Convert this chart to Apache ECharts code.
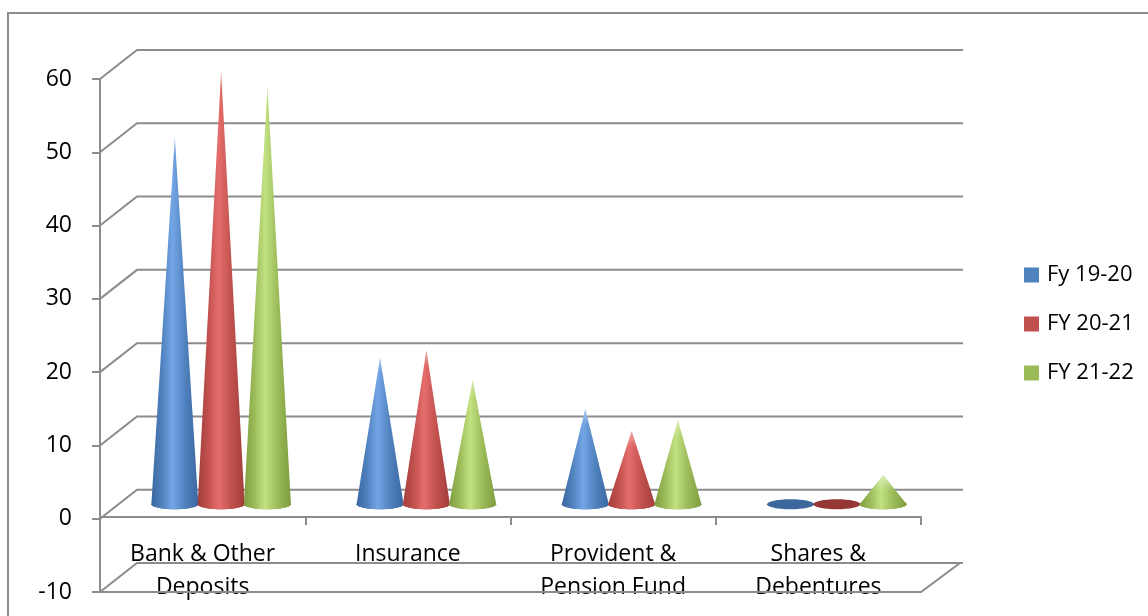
<!DOCTYPE html>
<html>
<head>
<meta charset="utf-8">
<script src="https://cdn.jsdelivr.net/npm/echarts@6/dist/echarts.min.js"></script>
<style>
  html, body { margin: 0; padding: 0; background: #ffffff; }
  #chart { width: 1148px; height: 616px; }
</style>
</head>
<body>
<div id="chart"></div>
<script>
// Categories and values (per cent of household savings)
const categories = ['Bank & Other\nDeposits', 'Insurance', 'Provident &\nPension Fund', 'Shares &\nDebentures'];
const seriesNames = ['Fy 19-20', 'FY 20-21', 'FY 21-22'];
const fy1920 = [50, 20, 13, 0];
const fy2021 = [59, 21, 10, 0];
const fy2122 = [57, 17, 11.5, 4];
const yTicks = [-10, 0, 10, 20, 30, 40, 50, 60];

const FONT = 'Open Sans';
const GRID_COLOR = '#8C8C8C';
const DEPTH_X = 37;   // back-wall offset, pixels
const DEPTH_Y = 29;
const SLOT_W = 46.3;  // spacing between cones inside a category
const CONE_R = 23.5;
const CONE_RY = 5;

const palettes = [
  { base: '#4F81BD', edge: '#3B67A0', light: '#74A5E6', disc: '#3C689D' },
  { base: '#C0504D', edge: '#A23E3B', light: '#E56E6B', disc: '#953735' },
  { base: '#9BBB59', edge: '#7E9C3E', light: '#C2E282', disc: '#7C9A3C' }
];

// Back wall, left wall diagonals and the floor at the axis minimum
function renderWalls(params, api) {
  const cs = params.coordSys;
  const v = api.value(1);
  const y = api.coord([0, v])[1];
  const x0 = cs.x, x1 = cs.x + cs.width;
  const st = { stroke: GRID_COLOR, lineWidth: 2, fill: null };
  const children = [{
    type: 'polyline',
    shape: { points: [[x0, y], [x0 + DEPTH_X, y - DEPTH_Y], [x1 + DEPTH_X + 5, y - DEPTH_Y]] },
    style: st
  }];
  if (v === yTicks[0]) {
    children.push({
      type: 'polyline',
      shape: { points: [[x0, y], [x1, y], [x1 + DEPTH_X + 2, y - DEPTH_Y]] },
      style: st
    });
  }
  return { type: 'group', children };
}

function coneRenderer(slot, pal) {
  return function (params, api) {
    const cat = api.value(0), val = api.value(1);
    const base = api.coord([cat, 0]);
    const tip = api.coord([cat, val]);
    const cx = base[0] + DEPTH_X / 2 + slot * SLOT_W;
    const yb = base[1] - DEPTH_Y / 2;
    const yt = tip[1] - DEPTH_Y / 2;
    const children = [{
      type: 'ellipse',
      shape: { cx: cx, cy: yb, rx: CONE_R, ry: CONE_RY },
      style: { fill: pal.disc }
    }];
    if (yb - yt > 1) {
      const pts = [[cx, yt]];
      const N = 28;
      for (let i = 0; i <= N; i++) {
        const a = Math.PI - Math.PI * i / N;
        pts.push([cx + CONE_R * Math.cos(a), yb + CONE_RY * Math.sin(a)]);
      }
      const body = new echarts.graphic.LinearGradient(0, 0, 1, 0, [
        { offset: 0, color: pal.edge },
        { offset: 0.22, color: pal.base },
        { offset: 0.45, color: pal.light },
        { offset: 0.72, color: pal.base },
        { offset: 1, color: pal.edge }
      ]);
      const fade = new echarts.graphic.LinearGradient(0, yt, 0, yt + 16, [
        { offset: 0, color: 'rgba(255,255,255,0.45)' },
        { offset: 1, color: 'rgba(255,255,255,0)' }
      ], true);
      children.push({ type: 'polygon', shape: { points: pts }, style: { fill: body } });
      children.push({ type: 'polygon', shape: { points: pts }, style: { fill: fade } });
    }
    return { type: 'group', children };
  };
}

const seriesValues = [fy1920, fy2021, fy2122];
const coneSeries = seriesValues.map((vals, s) => ({
  type: 'custom',
  name: seriesNames[s],
  coordinateSystem: 'cartesian2d',
  xAxisIndex: 0,
  yAxisIndex: 0,
  itemStyle: { color: palettes[s].base },
  renderItem: coneRenderer(s - 1, palettes[s]),
  data: vals.map((v, i) => [i, v]),
  encode: { x: 0, y: 1 },
  z: 3
}));

const chart = echarts.init(document.getElementById('chart'), null, { renderer: 'canvas' });
chart.setOption({
  animation: false,
  backgroundColor: '#ffffff',
  textStyle: { fontFamily: FONT },
  graphic: [{
    type: 'rect',
    shape: { x: 8, y: 13, width: 1200, height: 700 },
    style: { fill: null, stroke: GRID_COLOR, lineWidth: 2 },
    silent: true
  }],
  grid: [
    // full value range, -10 .. 60
    { left: 100, top: 79, width: 821, height: 513, containLabel: false, outerBoundsMode: 'none' },
    // category axis sitting on the zero plane
    { left: 100, top: 79, width: 821, height: 438, containLabel: false, outerBoundsMode: 'none' }
  ],
  legend: {
    data: seriesNames,
    orient: 'vertical',
    left: 1019,
    top: 258,
    icon: 'rect',
    itemWidth: 15,
    itemHeight: 15,
    itemGap: 25,
    textStyle: { fontFamily: FONT, fontSize: 22, color: '#000', lineHeight: 24, padding: [0, 0, 0, 3] }
  },
  xAxis: [{
    type: 'category',
    gridIndex: 0,
    data: categories,
    show: false
  }, {
    type: 'category',
    gridIndex: 1,
    data: categories,
    axisLine: { onZero: false, lineStyle: { color: GRID_COLOR, width: 2 } },
    axisTick: { show: true, length: 8, lineStyle: { color: GRID_COLOR, width: 2 } },
    axisLabel: { interval: 0, margin: 21, fontFamily: FONT, fontSize: 23, lineHeight: 33, color: '#000' },
    splitLine: { show: false }
  }],
  yAxis: [{
    type: 'value',
    gridIndex: 0,
    min: -10,
    max: 60,
    interval: 10,
    axisLine: { show: true, lineStyle: { color: GRID_COLOR, width: 2 } },
    axisTick: { show: true, length: 8, lineStyle: { color: GRID_COLOR, width: 2 } },
    axisLabel: { margin: 28, fontFamily: FONT, fontSize: 23, color: '#000' },
    splitLine: { show: false }
  }, {
    type: 'value',
    gridIndex: 1,
    min: 0,
    max: 60,
    show: false,
    splitLine: { show: false }
  }],
  series: [{
    type: 'custom',
    name: 'walls',
    coordinateSystem: 'cartesian2d',
    xAxisIndex: 0,
    yAxisIndex: 0,
    silent: true,
    renderItem: renderWalls,
    data: yTicks.map(v => [0, v]),
    encode: { x: 0, y: 1 },
    z: 1
  }].concat(coneSeries)
});
</script>
</body>
</html>
